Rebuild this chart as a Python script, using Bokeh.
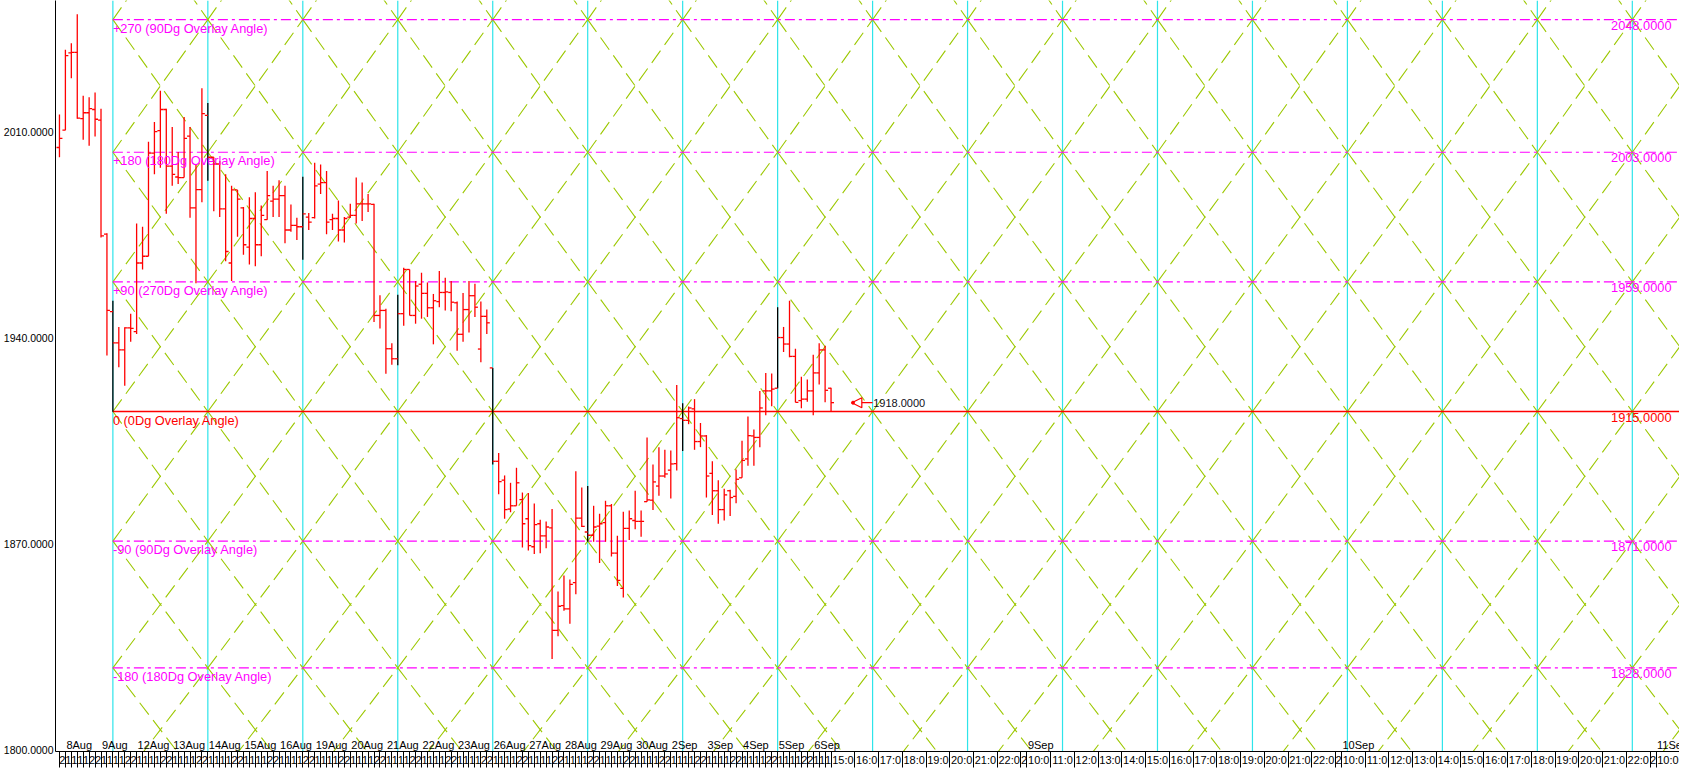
from bokeh.plotting import figure
from bokeh.models import Range1d, FixedTicker, NumeralTickFormatter, Arrow, NormalHead, LinearAxis
from bokeh.core.properties import value
from bokeh.embed import file_html
from bokeh.resources import INLINE

# ---------------- data ----------------
bar_open = [2004.6, 2010.5, 2036.7, 2036.9, 2014.4, 2016.4, 2017.5, 2013.9, 1975.2, 1948.9,
            1938.3, 1935.9, 1943.4, 1942.1, 1965.4, 1967.7, 2002.7, 2010.3, 2017.5, 1998.3,
            1994.6, 1994.4, 2008.5, 1984.1, 1990.3, 2015.5, 2001.3, 1999.0, 1983.8, 1965.4,
            1990.2, 1984.1, 1970.8, 1980.5, 1971.6, 1980.1, 1986.4, 1987.1, 1988.3, 1976.6,
            1978.2, 1977.7, 1981.0, 1980.8, 1992.2, 1992.7, 1980.1, 1980.5, 1976.6, 1981.0,
            1981.6, 1985.5, 1985.5, 1985.3, 1947.6, 1949.3, 1936.3, 1932.9, 1948.2, 1963.2,
            1947.6, 1958.2, 1955.1, 1950.2, 1952.3, 1955.4, 1955.4, 1951.9, 1941.2, 1949.6,
            1954.3, 1936.2, 1947.3, 1929.8, 1898.1, 1891.7, 1881.9, 1883.0, 1885.1, 1878.6,
            1869.1, 1876.9, 1872.8, 1875.5, 1840.7, 1849.1, 1848.0, 1856.9, 1878.8, 1874.1,
            1873.0, 1876.1, 1877.3, 1883.0, 1866.9, 1855.0, 1875.3, 1878.0, 1877.7, 1884.4,
            1884.9, 1889.7, 1893.1, 1895.1, 1897.3, 1912.6, 1912.0, 1915.9, 1904.8, 1906.7,
            1894.0, 1888.1, 1881.7, 1888.1, 1886.2, 1892.5, 1898.9, 1906.7, 1906.2, 1922.0,
            1922.0, 1922.9, 1940.1, 1937.9, 1933.7, 1918.7, 1919.2, 1922.0, 1928.1, 1935.9,
            1922.9]
bar_high = [2015.8, 2037.8, 2040.0, 2049.8, 2022.2, 2021.7, 2023.3, 2017.8, 1975.5, 1952.6,
            1943.7, 1943.6, 1948.2, 1978.8, 1977.7, 2006.6, 2013.3, 2023.9, 2017.8, 2011.6,
            2003.1, 2015.0, 2011.6, 1998.8, 2024.7, 2019.7, 2001.3, 2000.0, 1995.5, 1991.6,
            1990.2, 1984.4, 1987.7, 1989.4, 1984.9, 1996.6, 1991.6, 1993.5, 1991.6, 1985.3,
            1980.8, 1994.7, 1982.4, 1999.4, 1998.8, 1996.6, 1982.1, 1986.6, 1981.0, 1985.5,
            1994.4, 1992.7, 1988.8, 1985.5, 1954.5, 1949.9, 1938.2, 1954.6, 1963.8, 1963.2,
            1959.3, 1962.1, 1958.8, 1954.9, 1962.7, 1960.4, 1959.3, 1952.3, 1955.2, 1959.3,
            1958.4, 1952.3, 1949.6, 1929.8, 1900.9, 1893.3, 1890.8, 1895.9, 1887.5, 1887.3,
            1883.8, 1878.3, 1877.7, 1881.9, 1853.9, 1859.3, 1858.0, 1894.7, 1889.2, 1889.7,
            1883.0, 1880.3, 1884.7, 1883.6, 1872.8, 1881.0, 1881.4, 1888.1, 1881.4, 1906.2,
            1897.0, 1902.9, 1902.0, 1901.8, 1924.0, 1917.8, 1916.7, 1919.2, 1911.1, 1907.0,
            1898.1, 1891.7, 1888.8, 1888.4, 1895.3, 1905.1, 1913.3, 1908.9, 1922.0, 1928.1,
            1927.9, 1950.4, 1943.7, 1952.6, 1936.3, 1926.8, 1925.9, 1934.3, 1938.2, 1937.3,
            1923.1]
bar_low = [2001.3, 2010.5, 2028.1, 2014.4, 2007.2, 2005.2, 2008.3, 1974.1, 1934.0, 1914.9,
           1930.0, 1923.7, 1938.7, 1941.3, 1963.2, 1967.7, 1995.5, 1997.7, 1982.1, 1991.6,
           1992.2, 1994.4, 1980.8, 1958.5, 1986.0, 1993.3, 1983.0, 1981.0, 1966.0, 1959.3,
           1974.3, 1968.2, 1964.9, 1964.3, 1967.7, 1980.1, 1981.0, 1981.0, 1972.1, 1976.0,
           1973.2, 1966.5, 1976.6, 1980.5, 1988.8, 1975.2, 1976.6, 1972.7, 1972.4, 1980.8,
           1978.8, 1979.7, 1982.7, 1945.4, 1943.2, 1927.8, 1930.9, 1930.7, 1944.1, 1947.6,
           1944.8, 1946.5, 1947.1, 1937.8, 1950.4, 1949.3, 1949.0, 1935.6, 1938.7, 1941.8,
           1947.1, 1931.7, 1941.3, 1897.0, 1886.9, 1878.6, 1880.8, 1883.0, 1868.8, 1867.8,
           1866.6, 1866.9, 1868.6, 1831.0, 1838.7, 1847.4, 1843.0, 1853.0, 1875.8, 1870.8,
           1870.8, 1863.6, 1870.8, 1865.8, 1855.8, 1851.9, 1871.4, 1875.0, 1872.5, 1884.4,
           1881.6, 1886.4, 1892.5, 1885.5, 1895.0, 1901.6, 1910.7, 1902.0, 1902.9, 1885.8,
           1879.9, 1876.9, 1878.0, 1879.5, 1883.9, 1892.5, 1896.6, 1896.6, 1902.9, 1913.7,
           1916.8, 1922.9, 1935.2, 1933.4, 1918.1, 1916.1, 1918.3, 1913.7, 1924.2, 1918.1,
           1914.8]
bar_close = [2007.7, 2035.8, 2036.9, 2014.6, 2016.4, 2017.8, 2014.2, 1974.6, 1949.3, 1938.3,
             1935.9, 1943.4, 1943.2, 1965.4, 1967.7, 2002.7, 2010.0, 2017.5, 1998.3, 1995.5,
             1994.4, 2007.7, 1984.1, 1990.3, 2016.1, 2001.3, 1999.0, 1983.8, 1969.3, 1990.2,
             1987.1, 1971.6, 1980.5, 1971.6, 1981.6, 1988.3, 1987.1, 1988.3, 1976.6, 1978.2,
             1977.7, 1982.1, 1979.3, 1991.6, 1992.7, 1979.3, 1980.5, 1976.6, 1980.5, 1981.6,
             1985.5, 1985.5, 1985.5, 1947.6, 1949.3, 1936.3, 1932.9, 1948.2, 1963.2, 1947.6,
             1957.6, 1955.1, 1950.2, 1952.6, 1955.4, 1955.6, 1952.1, 1941.2, 1949.6, 1954.3,
             1950.4, 1947.3, 1945.1, 1898.1, 1891.2, 1881.7, 1883.0, 1890.8, 1876.9, 1869.5,
             1876.6, 1872.8, 1875.8, 1840.7, 1848.9, 1848.0, 1856.3, 1878.8, 1876.0, 1873.0,
             1875.8, 1876.9, 1883.0, 1866.9, 1857.7, 1875.3, 1878.6, 1877.7, 1877.7, 1885.0,
             1891.1, 1893.1, 1893.8, 1897.2, 1912.9, 1912.0, 1916.2, 1904.8, 1906.7, 1893.1,
             1888.1, 1881.7, 1886.7, 1885.8, 1892.0, 1898.4, 1906.8, 1906.2, 1916.2, 1922.0,
             1922.6, 1940.1, 1937.9, 1933.7, 1918.1, 1919.2, 1922.0, 1928.1, 1935.9, 1922.2,
             1918.0]

# overlay levels (square-of-nine angles around the 1915 pivot)
level_prices = [1828, 1871, 1915, 1959, 2003, 2048]
level_names = ["-180 (180Dg Overlay Angle)", "-90 (90Dg Overlay Angle)", "0 (0Dg Overlay Angle)",
               "+90 (270Dg Overlay Angle)", "+180 (180Dg Overlay Angle)", "+270 (90Dg Overlay Angle)"]
level_values = ["1828.0000", "1871.0000", "1915.0000", "1959.0000", "2003.0000", "2048.0000"]
lattice_prices = [1786, 1828, 1871, 1915, 1959, 2003, 2048, 2094]   # incl. the unlabelled next levels
pivot_slot = 9          # bar slot of the pivot (first time line)
time_step = 16          # slots between time lines
n_time_lines = 17

last_price = 1918.0
y_ticks = [1800, 1870, 1940, 2010]

day_labels = ["8Aug", "9Aug", "12Aug", "13Aug", "14Aug", "15Aug", "16Aug", "19Aug", "20Aug", "21Aug",
              "22Aug", "23Aug", "26Aug", "27Aug", "28Aug", "29Aug", "30Aug", "2Sep", "3Sep", "4Sep",
              "5Sep", "6Sep"]
bars_per_day = 6
day_hours = ["1", "1", "1", "1", "2", "2"]
first_slot_hour = "2"
future_day_labels = ["9Sep", "10Sep", "11Sep"]
future_cells = ["15:0", "16:0", "17:0", "18:0", "19:0", "20:0", "21:0", "22:0", "2",
                "10:0", "11:0", "12:0", "13:0", "14:0", "15:0", "16:0", "17:0", "18:0", "19:0", "20:0", "21:0", "22:0", "2",
                "10:0", "11:0", "12:0", "13:0", "14:0", "15:0", "16:0", "17:0", "18:0", "19:0", "20:0", "21:0", "22:0", "2",
                "10:0", "11:0"]

# ---------------- styles ----------------
RED = "#ff0000"
MAG = "#ff00ff"
CYAN = "#2ee4ea"
GREEN = "#9cc800"
FONT = value("Liberation Sans")

n = len(bar_close)
slots = list(range(n))
X0, X1 = -0.667, 272.95
Y0, Y1 = 1799.6, 2054.5

p = figure(width=1679, height=768, x_range=Range1d(X0, X1), y_range=Range1d(Y0, Y1),
           output_backend="svg", toolbar_location=None, x_axis_location=None, y_axis_location="left",
           min_border_left=53, min_border_right=0, min_border_top=0, min_border_bottom=16,
           background_fill_color="white", border_fill_color="white", outline_line_color=None)
p.grid.visible = False
ax = p.yaxis[0]
ax.ticker = FixedTicker(ticks=y_ticks)
ax.formatter = NumeralTickFormatter(format="0.0000")
ax.major_tick_out = 0
ax.major_tick_in = 0
ax.minor_tick_out = 0
ax.minor_tick_in = 0
ax.major_label_standoff = 2
ax.major_label_text_font = "Liberation Sans"
ax.major_label_text_font_size = "10.5px"
ax.major_label_text_color = "black"
ax.axis_line_color = "black"

# ---------------- time band (x axis) ----------------
hist_labels = [first_slot_hour]
while len(hist_labels) < n - 1:
    hist_labels += day_hours
hist_labels = hist_labels[:n - 1]
fut_slots, fut_width = [], []
s = n - 1
for lab in future_cells:
    w = 1 if lab == "2" else 4
    fut_slots.append(s)
    fut_width.append(w)
    s += w
cell_bounds = [float(k) for k in range(n - 1)] + [float(v) for v in fut_slots]
cell_centers = [k + 0.5 for k in range(n - 1)] + [v + w / 2 for v, w in zip(fut_slots, fut_width)]
cell_labels = hist_labels + future_cells
xa = LinearAxis(ticker=FixedTicker(ticks=cell_centers, minor_ticks=cell_bounds))
xa.major_label_overrides = {c: lab for c, lab in zip(cell_centers, cell_labels)}
xa.major_tick_out = 0
xa.major_tick_in = 0
xa.minor_tick_out = 16
xa.minor_tick_in = 0
xa.minor_tick_line_color = "black"
xa.axis_line_color = "black"
xa.major_label_standoff = -14
xa.major_label_text_font = "Liberation Sans"
xa.major_label_text_font_size = "11px"
xa.major_label_text_color = "black"
p.add_layout(xa, "below")

# time lines
time_slots = [pivot_slot + time_step * i for i in range(n_time_lines)]
p.segment(x0=time_slots, y0=[Y0] * len(time_slots), x1=time_slots, y1=[Y1] * len(time_slots),
          line_color=CYAN, line_width=1.2)

# diamond lattice
dx0, dy0, dx1, dy1 = [], [], [], []
for t in time_slots:
    for j in range(len(lattice_prices) - 1):
        lo, hi = lattice_prices[j], lattice_prices[j + 1]
        dx0 += [t, t]
        dy0 += [lo, hi]
        dx1 += [t + time_step, t + time_step]
        dy1 += [hi, lo]
p.segment(x0=dx0, y0=dy0, x1=dx1, y1=dy1, line_color=GREEN, line_width=1.1, line_dash="15 7")

# level lines
for lp in level_prices:
    if lp == 1915:
        p.segment(x0=[pivot_slot], y0=[lp], x1=[X1], y1=[lp], line_color=RED, line_width=1.3)
    else:
        p.segment(x0=[pivot_slot], y0=[lp], x1=[X1], y1=[lp], line_color=MAG, line_width=1.2,
                  line_dash="10 4 3 4")

# OHLC bars (the ones sitting on a time line show black)
vcol = ["black" if (k - pivot_slot) % time_step == 0 and k >= pivot_slot else RED for k in slots]
p.segment(x0=slots, y0=bar_low, x1=slots, y1=bar_high, line_color=vcol, line_width=1.3)
p.segment(x0=[k - 0.5 for k in slots], y0=bar_open, x1=slots, y1=bar_open, line_color=RED, line_width=1.3)
p.segment(x0=slots, y0=bar_close, x1=[k + 0.5 for k in slots], y1=bar_close, line_color=RED, line_width=1.3)

# level labels
lcol = [RED if lp == 1915 else MAG for lp in level_prices]
p.text(x=[pivot_slot] * len(level_prices), y=level_prices, text=level_names, text_color=lcol,
       text_font=FONT, text_font_size=value("12.8px"), text_align="left", text_baseline="top", y_offset=1)
p.text(x=[X1] * len(level_prices), y=level_prices, text=level_values, text_color=lcol,
       text_font=FONT, text_font_size=value("12.8px"), text_align="right", text_baseline="top",
       y_offset=1, x_offset=-8)

# last price marker
p.add_layout(Arrow(x_start=n + 6.0, y_start=last_price, x_end=n + 2.5, y_end=last_price,
                   line_color=RED, line_width=1.2,
                   end=NormalHead(size=10, fill_color=None, line_color=RED, line_width=1.2)))
p.scatter(x=[n + 2.7], y=[last_price], size=3, color=RED)
p.text(x=[n + 6.1], y=[last_price], text=["%.4f" % last_price], text_color="#101020",
       text_font=FONT, text_font_size=value("11px"), text_align="left", text_baseline="middle")

# day labels at the bottom of the price pane
day_slots = [1 + bars_per_day * d for d in range(len(day_labels))]
fut_day_slots = [fut_slots[i + 1] for i, lab in enumerate(future_cells) if lab == "2"]
all_day_slots = day_slots + fut_day_slots
all_day_labels = day_labels + future_day_labels[:len(fut_day_slots)]
p.text(x=all_day_slots, y=[Y0] * len(all_day_slots), text=all_day_labels, text_color="black",
       text_font=FONT, text_font_size=value("11px"), text_align="left", text_baseline="bottom",
       x_offset=1, y_offset=-1)

open("out.html", "w").write(file_html(p, INLINE))
